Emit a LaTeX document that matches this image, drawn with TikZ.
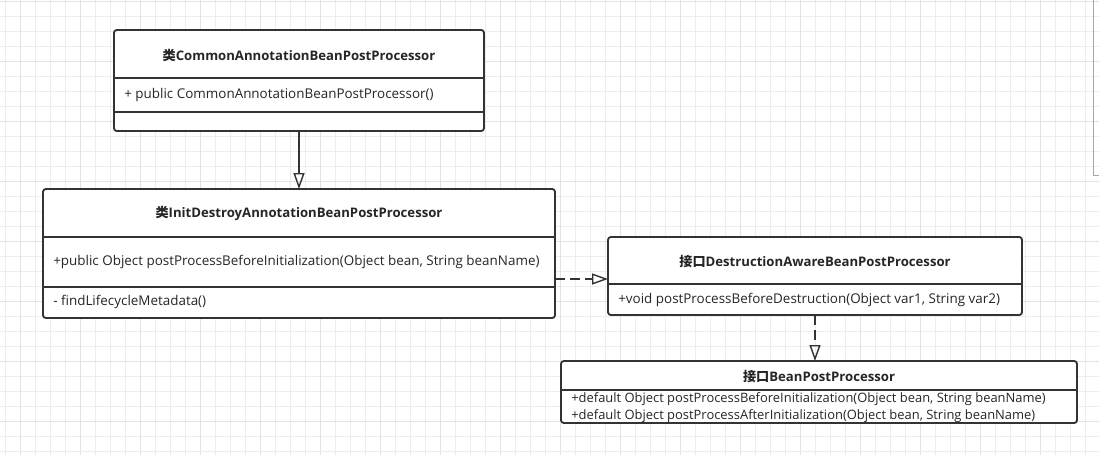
\documentclass[tikz,border=0pt]{standalone}
\usepackage{fontspec}
\setmainfont{Open Sans}
\newfontfamily\cjk{Noto Sans CJK SC}
\usetikzlibrary{arrows.meta,calc}
\newlength\px
\setlength\px{0.025cm}

\begin{document}
\begin{tikzpicture}[x=0.025cm,y=-0.025cm,
    umlbox/.style={draw=black!80,line width=1.3pt,rounded corners=2pt,inner sep=0pt,outer sep=0pt,fill=white},
    divider/.style={draw=black!80,line width=1.3pt},
    classname/.style={inner sep=0pt,text=black!85,font=\bfseries\fontsize{9.35}{11}\selectfont},
    member/.style={anchor=west,inner sep=0pt,text=black!85,font=\fontsize{9.55}{11}\selectfont},
    smallmember/.style={member,font=\fontsize{9.2}{11}\selectfont},
    inherit/.style={-{Triangle[open,length=0.4cm,width=0.275cm]},line width=1pt,draw=black!80},
    realize/.style={inherit,dash pattern=on 0.25cm off 0.125cm},
    gridminor/.style={draw=black!7,line width=0.5pt},
    gridmajor/.style={draw=black!11,line width=0.5pt}]

    % Background and grid
    \fill[white] (0,0) rectangle (1099,455);
    \useasboundingbox (0,0) rectangle (1099,455);
    \foreach \gx in {5.7,20.7,...,1099} \draw[gridminor] (\gx,0) -- (\gx,455);
    \foreach \gy in {1.7,16.7,...,455} \draw[gridminor] (0,\gy) -- (1099,\gy);
    \foreach \gx in {20.7,80.7,...,1099} \draw[gridmajor] (\gx,0) -- (\gx,455);
    \foreach \gy in {1.7,61.7,...,455} \draw[gridmajor] (0,\gy) -- (1099,\gy);
    \draw[black!35] (1093.5,0) |- (1099,175);

    % Class boxes
    \node[umlbox,minimum width=370\px,minimum height=101\px] (common) at (299,80.5) {};
    \node[umlbox,minimum width=512\px,minimum height=129\px] (initDestroy) at (299,253.5) {};
    \node[umlbox,minimum width=414\px,minimum height=78\px] (destructionAware) at (815,276) {};
    \node[umlbox,minimum width=516\px,minimum height=62\px] (beanPost) at (819,392) {};

    % Dividers between name and members
    \draw[divider] (common.west |- 0,78) -- (common.east |- 0,78);
    \draw[divider] (common.west |- 0,112) -- (common.east |- 0,112);
    \draw[divider] (initDestroy.west |- 0,237) -- (initDestroy.east |- 0,237);
    \draw[divider] (initDestroy.west |- 0,287) -- (initDestroy.east |- 0,287);
    \draw[divider] (destructionAware.west |- 0,284) -- (destructionAware.east |- 0,284);
    \draw[divider] (beanPost.west |- 0,390) -- (beanPost.east |- 0,390);

    % Class names
    \node[classname] (commonName) at (299,55) {{\cjk 类}CommonAnnotationBeanPostProcessor};
    \node[classname] (initDestroyName) at (299,213) {{\cjk 类}InitDestroyAnnotationBeanPostProcessor};
    \node[classname] (destructionAwareName) at (815,262) {{\cjk 接口}DestructionAwareBeanPostProcessor};
    \node[classname] (beanPostName) at (819,377) {{\cjk 接口}BeanPostProcessor};

    % Members
    \node[member] (commonCtor) at (124,95) {+ public CommonAnnotationBeanPostProcessor()};
    \node[member] (initBefore) at (53,262) {+public Object postProcessBeforeInitialization(Object bean, String beanName)};
    \node[member] (initFind) at (53,302) {- findLifecycleMetadata()};
    \node[member] (destrBefore) at (618,300) {+void postProcessBeforeDestruction(Object var1, String var2)};
    \node[smallmember] (beanBefore) at (571,399) {+default Object postProcessBeforeInitialization(Object bean, String beanName)};
    \node[smallmember] (beanAfter) at (571,416) {+default Object postProcessAfterInitialization(Object bean, String beanName)};

    % Arrows
    \coordinate (implRow) at (0,279);
    \draw[inherit] (common) -- (initDestroy);
    \draw[realize] (initDestroy.east |- implRow) -- (destructionAware.west |- implRow);
    \draw[realize] (destructionAware.south) -- (destructionAware.south |- beanPost.north);

\end{tikzpicture}
\end{document}
